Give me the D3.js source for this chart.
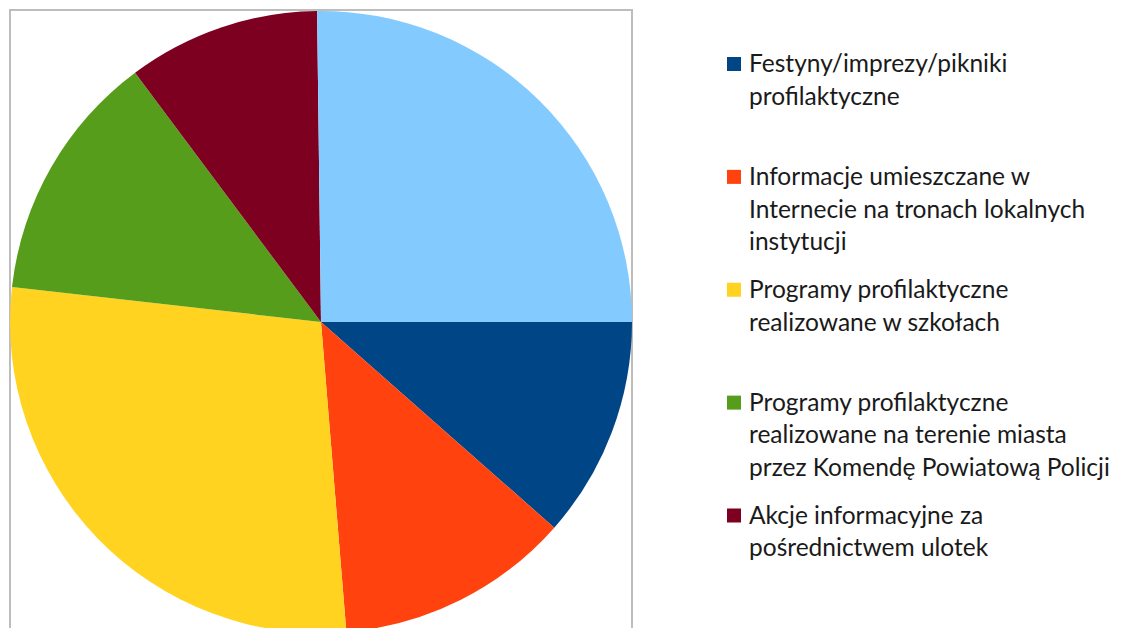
<!DOCTYPE html>
<html>
<head>
<meta charset="utf-8">
<style>
body { margin: 0; background: #fff; }
.legend text {
  font-family: "Lato", "Open Sans", "Liberation Sans", sans-serif;
  fill: #1a1a1a;
}
</style>
</head>
<body>
<svg width="1121" height="628"></svg>
<script src="https://cdn.jsdelivr.net/npm/d3@7/dist/d3.min.js"></script>
<script>

// values (share of the pie, clockwise from 3 o'clock)
var categories = ["Festyny", "Informacje", "Szkoly", "Policja", "Ulotki", "Inne"];
var values = [11.5, 12.2, 28.1, 13.0, 10.0, 25.2];
var colors = ["#004586", "#ff420e", "#ffd320", "#579d1c", "#7e0021", "#83caff"];

// legend texts, already broken in lines as in the picture
var legendLines = [
  ["Festyny/imprezy/pikniki", "profilaktyczne"],
  ["Informacje umieszczane w", "Internecie na tronach lokalnych", "instytucji"],
  ["Programy profilaktyczne", "realizowane w szkołach"],
  ["Programy profilaktyczne", "realizowane na terenie miasta", "przez Komendę Powiatową Policji"],
  ["Akcje informacyjne za", "pośrednictwem ulotek"]
];

var svg = d3.select("svg");

var cx = 321, cy = 322, radius = 311;

// plot frame
svg.append("rect")
    .attr("x", 10).attr("y", 10)
    .attr("width", 622).attr("height", 640)
    .attr("fill", "none")
    .attr("stroke", "#bdbdbd")
    .attr("stroke-width", 2);

var pie = d3.pie()
    .sort(null)
    .value(function(d) { return d; })
    .startAngle(Math.PI / 2)
    .endAngle(Math.PI / 2 + 2 * Math.PI);

var arc = d3.arc().innerRadius(0).outerRadius(radius);

var color = d3.scaleOrdinal().domain(categories).range(colors);

svg.append("g")
    .attr("transform", "translate(" + cx + "," + cy + ")")
  .selectAll("path")
    .data(pie(values))
  .enter().append("path")
    .attr("d", arc)
    .attr("fill", function(d, i) { return color(categories[i]); });

// legend
var itemY = d3.scaleLinear().domain([0, 4]).range([72, 523.5]);
var lineH = 32.8;

var legend = svg.append("g").attr("class", "legend");

var item = legend.selectAll("g")
    .data(legendLines)
  .enter().append("g")
    .attr("transform", function(d, i) { return "translate(0," + itemY(i) + ")"; });

item.append("rect")
    .attr("x", 727).attr("y", -15)
    .attr("width", 14).attr("height", 14)
    .attr("fill", function(d, i) { return color(categories[i]); });

var txt = item.append("text")
    .attr("x", 749)
    .style("font-size", "20px");

txt.selectAll("tspan")
    .data(function(d) { return d; })
  .enter().append("tspan")
    .attr("x", 749)
    .attr("y", function(d, j) { return j * lineH; })
    .text(function(d) { return d; });

// fit the font so the longest line matches the picture width
var probe = legend.selectAll("tspan").filter(function(d) { return d == "przez Komendę Powiatową Policji"; });
var w = probe.node().getComputedTextLength();
var fs = 20 * 361 / w;
txt.style("font-size", fs + "px");

</script>
</body>
</html>
